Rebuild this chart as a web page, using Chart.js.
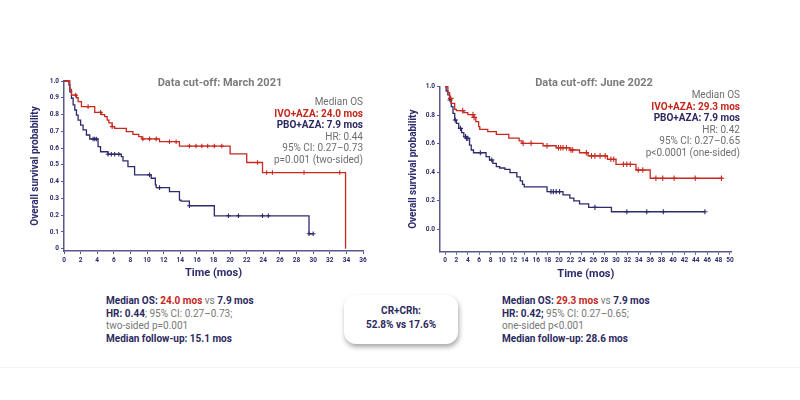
<!DOCTYPE html>
<html>
<head>
<meta charset="utf-8">
<script src="https://cdn.jsdelivr.net/npm/chart.js@4.4.1/dist/chart.umd.min.js"></script>
<style>
  body { margin: 0; background: #fff; font-family: Roboto, "Liberation Sans", sans-serif; }
  #page { position: relative; width: 800px; height: 400px; overflow: hidden; background: #fff; }
  .box { position: absolute; }
  .title { position: absolute; font-weight: bold; font-size: 11px; color: #7b7b7b; transform: translate(-50%, -50%); white-space: nowrap; }
  .median { position: absolute; text-align: right; font-size: 10px; line-height: 11.6px; color: #6f6f6f; white-space: nowrap; }
  .red { color: #c4261c; font-weight: bold; }
  .navy { color: #2b2960; font-weight: bold; }
  .note { position: absolute; font-size: 10px; line-height: 12.5px; color: #777; white-space: nowrap; }
  .card { position: absolute; left: 344px; top: 295px; width: 114px; height: 49px; border-radius: 12px;
          background: #fff; box-shadow: 1px 3px 5px rgba(0,0,0,0.35); text-align: center;
          font-size: 10px; line-height: 14px; font-weight: bold; color: #2b2960; }
  .rule { position: absolute; left: 0; top: 367px; width: 800px; height: 1px; background: #f3f3f3; }
</style>
</head>
<body>
<div id="page">
  <div class="box" style="left:20px;top:70px;width:360px;height:215px"><canvas id="chartMar"></canvas></div>
  <div class="box" style="left:400px;top:70px;width:350px;height:215px"><canvas id="chartJun"></canvas></div>

  <div class="title" style="left:220px;top:82px">Data cut-off: March 2021</div>
  <div class="title" style="left:594px;top:82px">Data cut-off: June 2022</div>

  <div class="median" style="right:437px;top:96px">
    Median OS<br>
    <span class="red">IVO+AZA: 24.0 mos</span><br>
    <span class="navy">PBO+AZA: 7.9 mos</span><br>
    HR: 0.44<br>
    95% CI: 0.27–0.73<br>
    p=0.001 (two-sided)
  </div>
  <div class="median" style="right:60px;top:89px">
    Median OS<br>
    <span class="red">IVO+AZA: 29.3 mos</span><br>
    <span class="navy">PBO+AZA: 7.9 mos</span><br>
    HR: 0.42<br>
    95% CI: 0.27–0.65<br>
    p&lt;0.0001 (one-sided)
  </div>

  <div class="note" style="left:106px;top:295px">
    <span class="navy">Median OS: </span><span class="red">24.0 mos</span> vs <span class="navy">7.9 mos</span><br>
    <span class="navy">HR: 0.44</span>; 95% CI: 0.27–0.73;<br>
    two-sided p=0.001<br>
    <span class="navy">Median follow-up: 15.1 mos</span>
  </div>
  <div class="card"><div style="padding-top:9px">CR+CRh:<br>52.8% vs 17.6%</div></div>
  <div class="note" style="left:502px;top:295px">
    <span class="navy">Median OS: </span><span class="red">29.3 mos</span> vs <span class="navy">7.9 mos</span><br>
    <span class="navy">HR: 0.42;</span> 95% CI: 0.27–0.65;<br>
    one-sided p&lt;0.001<br>
    <span class="navy">Median follow-up: 28.6 mos</span>
  </div>
  <div class="rule"></div>
</div>

<script>
// March 2021 cut-off - IVO+AZA
const marIvoTime = [0, 0.7, 0.9, 1.5, 1.7, 2.1, 3.7, 4.5, 4.9, 5.2, 5.4, 5.8, 6.1, 7.5, 8.3, 9.0, 9.4, 11.5, 13.9, 20.0, 22.0, 23.9, 33.9];
const marIvoSurv = [1.0, 0.95, 0.916, 0.90, 0.877, 0.847, 0.813, 0.80, 0.787, 0.767, 0.75, 0.728, 0.718, 0.698, 0.682, 0.668, 0.655, 0.638, 0.612, 0.565, 0.514, 0.454, 0];
const marIvoCensor = [1.4, 2.9, 4.4, 5.8, 9.5, 10.3, 11.1, 12.7, 13.5, 15.1, 15.9, 16.6, 17.3, 18.1, 19.0, 23.3, 24.4, 25.1, 28.9, 33.2];

// March 2021 cut-off - PBO+AZA
const marPboTime = [0, 0.6, 0.7, 0.9, 1.1, 1.3, 1.5, 1.7, 2.0, 2.3, 2.7, 3.1, 4.1, 4.4, 5.3, 6.9, 7.1, 7.7, 8.5, 10.5, 11.0, 11.1, 12.7, 13.9, 14.1, 15.1, 18.1, 29.5, 30.0];
const marPboSurv = [1.0, 0.976, 0.936, 0.897, 0.857, 0.827, 0.797, 0.767, 0.737, 0.708, 0.678, 0.654, 0.608, 0.578, 0.563, 0.549, 0.523, 0.489, 0.44, 0.42, 0.38, 0.364, 0.34, 0.29, 0.283, 0.256, 0.196, 0.089, 0.089];
const marPboCensor = [3.5, 3.7, 3.9, 5.3, 5.7, 6.1, 6.6, 10.3, 11.5, 15.1, 19.8, 21.0, 23.9, 24.6, 29.5, 30.0];

// June 2022 cut-off - IVO+AZA
const junIvoTime = [0, 0.5, 0.8, 1.1, 1.7, 2.0, 3.3, 4.0, 5.0, 5.4, 5.9, 6.1, 7.5, 9.0, 11.2, 13.0, 13.5, 17.2, 19.5, 21.9, 23.6, 25.1, 28.5, 30.0, 33.5, 36.0, 48.7];
const junIvoSurv = [1.0, 0.958, 0.918, 0.883, 0.841, 0.832, 0.818, 0.804, 0.785, 0.755, 0.72, 0.701, 0.685, 0.666, 0.64, 0.62, 0.603, 0.586, 0.572, 0.556, 0.537, 0.515, 0.491, 0.456, 0.416, 0.358, 0.358];
const junIvoCensor = [1.0, 3.1, 4.9, 5.1, 13.7, 15.1, 17.9, 19.9, 20.3, 20.7, 21.3, 22.1, 22.4, 24.8, 25.7, 26.3, 27.2, 28.1, 29.1, 29.6, 31.3, 31.9, 32.5, 33.9, 34.7, 37.0, 38.2, 40.2, 43.9, 48.5];

// June 2022 cut-off - PBO+AZA
const junPboTime = [0, 0.2, 0.5, 0.8, 1.1, 1.4, 1.7, 2.0, 2.4, 2.9, 3.3, 3.7, 4.3, 4.6, 5.0, 7.2, 7.8, 8.4, 9.0, 9.6, 10.5, 11.4, 12.6, 13.2, 13.6, 13.9, 17.9, 20.7, 21.9, 22.6, 23.6, 25.2, 29.2, 45.6];
const junPboSurv = [1.0, 0.97, 0.942, 0.907, 0.86, 0.813, 0.766, 0.743, 0.708, 0.678, 0.65, 0.638, 0.591, 0.556, 0.537, 0.509, 0.486, 0.463, 0.44, 0.43, 0.42, 0.398, 0.368, 0.339, 0.315, 0.297, 0.264, 0.241, 0.218, 0.2, 0.178, 0.154, 0.123, 0.123];
const junPboCensor = [0.9, 1.8, 2.7, 3.6, 3.8, 4.0, 6.2, 8.2, 18.6, 19.0, 19.5, 20.1, 26.3, 31.9, 35.4, 38.3, 45.6];

// tick values
const marXTicks = [0, 2, 4, 6, 8, 10, 12, 14, 16, 18, 20, 22, 24, 26, 28, 30, 32, 34, 36];
const marYTicks = [0, 0.1, 0.2, 0.3, 0.4, 0.5, 0.6, 0.7, 0.8, 0.9, 1.0];
const junXTicks = [0, 2, 4, 6, 8, 10, 12, 14, 16, 18, 20, 22, 24, 26, 28, 30, 32, 34, 36, 38, 40, 42, 44, 46, 48, 50];
const junYTicks = [0, 0.2, 0.4, 0.6, 0.8, 1.0];

const RED = '#c8281e';
const NAVY = '#2d2b6b';
const AXIS = '#58588f';
const FONT = 'Roboto, "Liberation Sans", sans-serif';

Chart.defaults.font.family = FONT;

function toPoints(times, surv) {
  return times.map((t, i) => ({ x: t, y: surv[i] }));
}

// survival at time t, for the censor ticks
function survAt(times, surv, t) {
  let s = surv[0];
  for (let i = 0; i < times.length; i++) {
    if (times[i] <= t) s = surv[i];
  }
  return s;
}

function censorPoints(times, surv, censor) {
  return censor.map(t => ({ x: t, y: survAt(times, surv, t) }));
}

// 'before' in chart.js = horizontal first, then drop
function kmLine(times, surv, color) {
  return {
    data: toPoints(times, surv),
    borderColor: color,
    borderWidth: 1.3,
    stepped: 'before',
    pointRadius: 0,
    fill: false,
    clip: false
  };
}

function censorSet(times, surv, censor, color, size) {
  return {
    type: 'scatter',
    data: censorPoints(times, surv, censor),
    pointStyle: 'cross',
    pointRadius: size,
    pointBorderColor: color,
    pointBorderWidth: 1.1,
    showLine: false,
    clip: false
  };
}

function makeChart(id, cfg) {
  const ticksFont = { size: 6.5, weight: 'bold' };
  new Chart(document.getElementById(id), {
    type: 'line',
    data: { datasets: cfg.datasets },
    options: {
      responsive: true,
      maintainAspectRatio: false,
      animation: false,
      layout: { padding: { top: cfg.padTop, right: cfg.padRight, left: 0, bottom: 0 } },
      plugins: { legend: { display: false }, tooltip: { enabled: false } },
      scales: {
        x: {
          type: 'linear',
          min: cfg.xMin,
          max: cfg.xMax,
          afterBuildTicks: s => { s.ticks = cfg.xTicks.map(v => ({ value: v })); },
          afterFit: s => { s.height = cfg.xHeight; },
          ticks: { color: NAVY, font: ticksFont, padding: 2, maxRotation: 0, autoSkip: false },
          grid: { display: true, drawOnChartArea: false, tickLength: 3, color: AXIS },
          border: { color: AXIS, width: 1.5 },
          title: { display: true, text: 'Time (mos)', color: NAVY, font: { size: 11, weight: 'bold' }, padding: { top: 0, bottom: cfg.xTitlePad } }
        },
        y: {
          min: cfg.yMin,
          max: 1.0,
          afterBuildTicks: s => { s.ticks = cfg.yTicks.map(v => ({ value: v })); },
          afterFit: s => { s.width = cfg.yWidth; },
          ticks: { color: NAVY, font: ticksFont, padding: 2, callback: cfg.yLabel },
          grid: { display: true, drawOnChartArea: false, tickLength: 3, color: AXIS },
          border: { color: AXIS, width: 1.5 },
          title: { display: true, text: 'Overall survival probability', color: NAVY, font: { size: 10, weight: 'bold' }, padding: { top: cfg.yTitlePad, bottom: 0 } }
        }
      }
    }
  });
}

makeChart('chartMar', {
  datasets: [
    kmLine(marIvoTime, marIvoSurv, RED),
    kmLine(marPboTime, marPboSurv, NAVY),
    censorSet(marIvoTime, marIvoSurv, marIvoCensor, RED, 2.3),
    censorSet(marPboTime, marPboSurv, marPboCensor, NAVY, 2.3)
  ],
  xMin: 0, xMax: 36, xTicks: marXTicks, xHeight: 34, xTitlePad: 5.4,
  yMin: -0.014, yTicks: marYTicks, yWidth: 44, yTitlePad: 9,
  yLabel: v => (v === 0 ? '0' : v.toFixed(1)),
  padTop: 11, padRight: 17
});

makeChart('chartJun', {
  datasets: [
    kmLine(junIvoTime, junIvoSurv, RED),
    kmLine(junPboTime, junPboSurv, NAVY),
    censorSet(junIvoTime, junIvoSurv, junIvoCensor, RED, 2.8),
    censorSet(junPboTime, junPboSurv, junPboCensor, NAVY, 2.6)
  ],
  xMin: -0.88, xMax: 50.3, xTicks: junXTicks, xHeight: 33.3, xTitlePad: 4.4,
  yMin: -0.157, yTicks: junYTicks, yWidth: 40, yTitlePad: 7,
  yLabel: v => v.toFixed(1),
  padTop: 16.7, padRight: 18.3
});
</script>
</body>
</html>
